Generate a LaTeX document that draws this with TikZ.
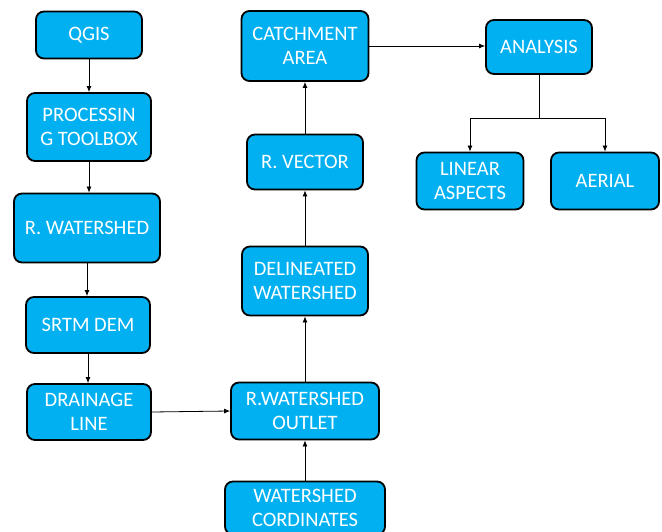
\documentclass[tikz,border=0pt]{standalone}
\usepackage{fontspec}
\setmainfont{Carlito}
\usetikzlibrary{arrows.meta}
\definecolor{boxcyan}{RGB}{0,176,240}

\begin{document}
\begin{tikzpicture}[x=1pt,y=-1pt,
        box/.style={draw=black,line width=1.8pt,rounded corners=8pt,fill=boxcyan,
                    text=white,align=center,inner sep=2pt,
                    font=\fontsize{20.5}{24}\selectfont},
        arr/.style={-{Latex[length=6pt,width=5pt]},line width=0.8pt}]

        \useasboundingbox (0,0) rectangle (662,532);

        % left column
        \node[box,minimum width=106pt,minimum height=47pt] (qgis)  at (89,35)  {QGIS};
        \node[box,minimum width=124pt,minimum height=68pt] (proc)  at (89,127) {PROCESSIN\\G TOOLBOX};
        \node[box,minimum width=146pt,minimum height=69pt] (rwat)  at (87,228) {R. WATERSHED};
        \node[box,minimum width=124pt,minimum height=56pt] (srtm)  at (88,325) {SRTM DEM};
        \node[box,minimum width=124pt,minimum height=56pt] (drain) at (89,412) {DRAINAGE\\LINE};

        % middle column
        \node[box,minimum width=148pt,minimum height=57pt] (outlet) at (305,411) {R.WATERSHED\\OUTLET};
        \node[box,minimum width=160pt,minimum height=53pt] (coord)  at (305,508) {WATERSHED\\CORDINATES};
        \node[box,minimum width=126pt,minimum height=69pt] (delin)  at (305,281) {DELINEATED\\WATERSHED};
        \node[box,minimum width=116pt,minimum height=55pt] (rvec)   at (305,162) {R. VECTOR};
        \node[box,minimum width=127pt,minimum height=70pt] (catch)  at (305,46)  {CATCHMENT\\AREA};

        % right part
        \node[box,minimum width=106pt,minimum height=54pt] (ana) at (539,47)  {ANALYSIS};
        \node[box,minimum width=107pt,minimum height=57pt] (lin) at (470,181) {LINEAR\\ASPECTS};
        \node[box,minimum width=108pt,minimum height=57pt] (aer) at (605,181) {AERIAL};

        \draw[arr] (qgis.south)  -- (qgis.south |- proc.north);
        \draw[arr] (proc.south)  -- (proc.south |- rwat.north);
        \draw[arr] (rwat.south)  -- (rwat.south |- srtm.north);
        \draw[arr] (srtm.south)  -- (srtm.south |- drain.north);
        \draw[arr] (drain.east)  -- (outlet.west);
        \draw[arr] (coord.north) -- (outlet.south);
        \draw[arr] (outlet.north) -- (delin.south);
        \draw[arr] (delin.north) -- (rvec.south);
        \draw[arr] (rvec.north)  -- (catch.south);
        \draw[arr] (catch.east)  -- (catch.east -| ana.west);

        \coordinate (split) at (539,118);
        \draw[line width=0.8pt] (ana.south) -- (split);
        \draw[arr] (split) -| (lin.north);
        \draw[arr] (split) -| (aer.north);
\end{tikzpicture}
\end{document}
